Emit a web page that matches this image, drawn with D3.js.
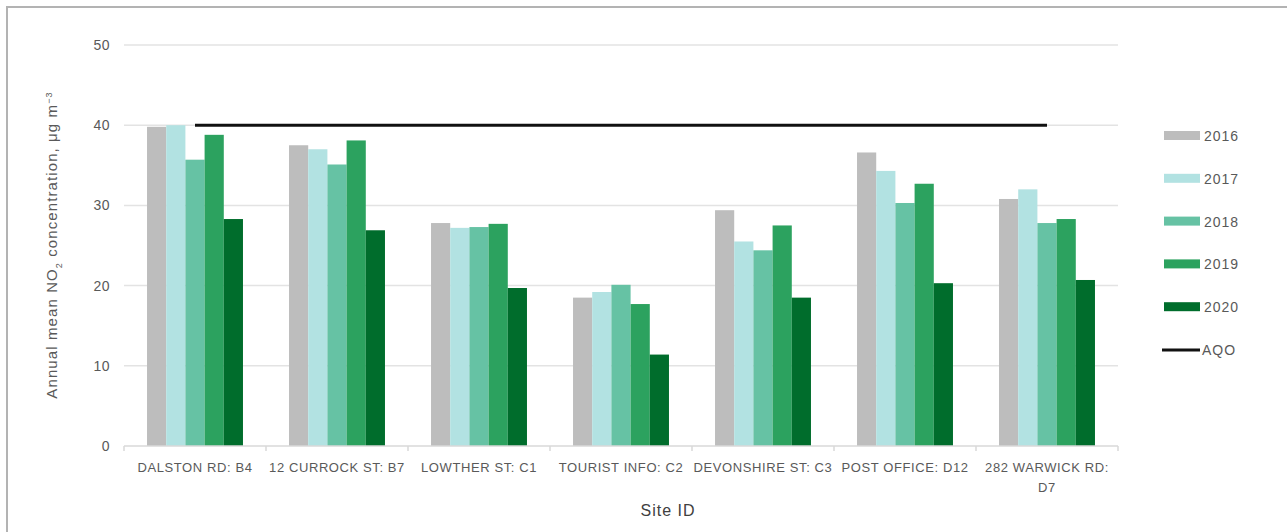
<!DOCTYPE html>
<html>
<head>
<meta charset="utf-8">
<script src="https://cdn.jsdelivr.net/npm/d3@7"></script>
<style>
  html, body { margin: 0; padding: 0; background: #fff; }
  svg { display: block; font-family: "Liberation Sans", Arial, sans-serif; }
</style>
</head>
<body>
<svg id="chart" width="1287" height="532"></svg>
<script>
// Annual mean NO2 by monitoring site, 2016-2020, against the air quality objective
const sites = ["DALSTON RD: B4", "12 CURROCK ST: B7", "LOWTHER ST: C1", "TOURIST INFO: C2",
               "DEVONSHIRE ST: C3", "POST OFFICE: D12", "282 WARWICK RD: D7"];
const years = ["2016", "2017", "2018", "2019", "2020"];
const values2016 = [39.8, 37.5, 27.8, 18.5, 29.4, 36.6, 30.8];
const values2017 = [40.0, 37.0, 27.2, 19.2, 25.5, 34.3, 32.0];
const values2018 = [35.7, 35.1, 27.3, 20.1, 24.4, 30.3, 27.8];
const values2019 = [38.8, 38.1, 27.7, 17.7, 27.5, 32.7, 28.3];
const values2020 = [28.3, 26.9, 19.7, 11.4, 18.5, 20.3, 20.7];
const aqoValue = 40;
const yTicks = [0, 10, 20, 30, 40, 50];
const yearColors = ["#bdbdbd", "#b2e2e2", "#66c2a4", "#2ca25f", "#006d2c"];

const seriesValues = [values2016, values2017, values2018, values2019, values2020];
const rows = sites.map((s, i) => ({ site: s, vals: years.map((y, k) => ({ year: y, v: seriesValues[k][i] })) }));

const svg = d3.select("#chart");

// outer frame
svg.append("rect").attr("x", 7).attr("y", 7).attr("width", 1300).attr("height", 560)
  .attr("fill", "none").attr("stroke", "#b3b3b3").attr("stroke-width", 2);

const plot = { left: 124, right: 1118, top: 45, bottom: 446 };

const x = d3.scaleBand().domain(sites).range([plot.left, plot.right]).paddingInner(0).paddingOuter(0);
const x1 = d3.scaleBand().domain(years).range([0, x.bandwidth()]).paddingOuter(1.2).paddingInner(0);
const y = d3.scaleLinear().domain([0, 50]).range([plot.bottom, plot.top]);
const color = d3.scaleOrdinal().domain(years).range(yearColors);

// gridlines
svg.append("g").selectAll("line").data(yTicks.filter(t => t > 0)).join("line")
  .attr("x1", plot.left).attr("x2", plot.right)
  .attr("y1", d => y(d)).attr("y2", d => y(d))
  .attr("stroke", "#e3e3e3").attr("stroke-width", 1.5);

// y axis labels
const yAxis = svg.append("g").attr("transform", `translate(${plot.left},0)`)
  .call(d3.axisLeft(y).tickValues(yTicks).tickSize(0).tickPadding(14));
yAxis.select(".domain").remove();
yAxis.selectAll("text").attr("fill", "#595959").style("font-size", "14px")
  .style("letter-spacing", "0.5px")
  .style("font-family", "'Liberation Sans', Arial, sans-serif");

// bars
const groups = svg.append("g").selectAll("g").data(rows).join("g")
  .attr("transform", d => `translate(${x(d.site)},0)`);
groups.selectAll("rect").data(d => d.vals).join("rect")
  .attr("x", d => x1(d.year))
  .attr("width", x1.bandwidth())
  .attr("y", d => y(d.v))
  .attr("height", d => y(0) - y(d.v))
  .attr("fill", d => color(d.year));

// x axis with category ticks at band edges
const xAxis = svg.append("g").attr("transform", `translate(0,${plot.bottom})`);
xAxis.append("line").attr("x1", plot.left).attr("x2", plot.right).attr("y1", 0).attr("y2", 0)
  .attr("stroke", "#d9d9d9").attr("stroke-width", 1.5);
const edges = sites.map(s => x(s)).concat([x(sites[sites.length - 1]) + x.bandwidth()]);
xAxis.selectAll("line.tick").data(edges).join("line").attr("class", "tick")
  .attr("x1", d => d).attr("x2", d => d).attr("y1", 0).attr("y2", 5)
  .attr("stroke", "#d9d9d9").attr("stroke-width", 1.5);

// category labels (wrap long ones)
const labelG = svg.append("g");
sites.forEach(s => {
  const cx = x(s) + x.bandwidth() / 2;
  const lines = s === "282 WARWICK RD: D7" ? ["282 WARWICK RD:", "D7"] : [s];
  const t = labelG.append("text").attr("x", cx).attr("y", 472)
    .attr("text-anchor", "middle").attr("fill", "#595959").style("font-size", "13px")
    .style("letter-spacing", "0.6px");
  lines.forEach((ln, i) => t.append("tspan").attr("x", cx).attr("dy", i === 0 ? 0 : 20).text(ln));
});

// AQO line from first to last category centre
svg.append("line")
  .attr("x1", x(sites[0]) + x.bandwidth() / 2)
  .attr("x2", x(sites[sites.length - 1]) + x.bandwidth() / 2)
  .attr("y1", y(aqoValue)).attr("y2", y(aqoValue))
  .attr("stroke", "#111").attr("stroke-width", 3);

// axis titles
svg.append("text").attr("x", 668).attr("y", 516).attr("text-anchor", "middle")
  .attr("fill", "#404040").style("font-size", "16px").style("letter-spacing", "1px").text("Site ID");

const yTitle = svg.append("text").attr("transform", "translate(57,245) rotate(-90)")
  .attr("text-anchor", "middle").attr("fill", "#595959").style("font-size", "15px")
  .style("letter-spacing", "1.1px");
yTitle.append("tspan").text("Annual mean NO");
yTitle.append("tspan").attr("baseline-shift", "sub").style("font-size", "9px").text("2");
yTitle.append("tspan").text(" concentration, μg m");
yTitle.append("tspan").attr("baseline-shift", "super").style("font-size", "9px").text("−3");

// legend
const legendItems = years.map(yr => ({ label: yr, type: "bar" })).concat([{ label: "AQO", type: "line" }]);
const legend = svg.append("g").selectAll("g").data(legendItems).join("g")
  .attr("transform", (d, i) => `translate(1164,${136 + i * 42.8})`);
legend.filter(d => d.type === "bar").append("rect")
  .attr("x", 0).attr("y", -5).attr("width", 36).attr("height", 9)
  .attr("fill", d => color(d.label));
legend.filter(d => d.type === "line").append("line")
  .attr("x1", -2).attr("x2", 36).attr("y1", 0).attr("y2", 0)
  .attr("stroke", "#111").attr("stroke-width", 3);
legend.append("text").attr("x", d => d.type === "line" ? 38 : 40).attr("y", 5)
  .attr("fill", "#595959").style("font-size", "14px").style("letter-spacing", "1px")
  .text(d => d.label);
</script>
</body>
</html>
